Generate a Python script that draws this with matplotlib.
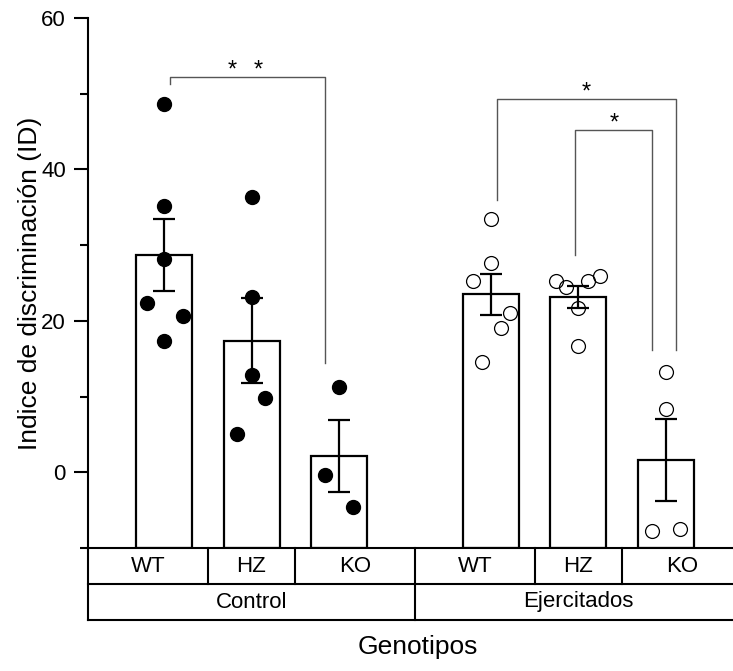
import matplotlib
matplotlib.use('Agg')
from matplotlib import pyplot as plt
from matplotlib.ticker import FixedLocator
import numpy as np

plt.rcParams['font.family'] = ['Liberation Sans', 'DejaVu Sans']

# Datos
groups = ['Control', 'Ejercitados']
genotypes = ['WT', 'HZ', 'KO']

means = [28.7, 17.4, 2.1, 23.5, 23.2, 1.6]
sems = [4.75, 5.6, 4.75, 2.75, 1.45, 5.45]

ctrl_wt = [48.7, 35.2, 28.2, 22.4, 20.6, 17.3]
ctrl_hz = [36.3, 23.1, 12.8, 9.8, 5.0]
ctrl_ko = [11.3, -0.4, -4.6]
ejer_wt = [33.4, 27.6, 25.3, 21.1, 19.1, 14.6]
ejer_hz = [25.9, 25.3, 25.2, 24.5, 21.7, 16.7]
ejer_ko = [13.3, 8.4, -7.5, -7.8]

points = [ctrl_wt, ctrl_hz, ctrl_ko, ejer_wt, ejer_hz, ejer_ko]

# posiciones de barras y dispersion horizontal de los puntos
xpos = np.array([0, 1, 2, 3.737, 4.737, 5.737])
jitter = [[0, 0, 0, -0.2, 0.22, 0],
          [0, 0, 0, 0.15, -0.17],
          [0, -0.16, 0.16],
          [0, 0, -0.2, 0.22, 0.11, -0.1],
          [0.25, -0.26, 0.11, -0.14, 0, 0],
          [0, 0, 0.16, -0.16]]
half = 0.869
ymin = -10

fig = plt.figure(figsize=(7.33, 6.71), dpi=100)
ax = fig.add_axes([88 / 733, 1 - 548 / 671, 1 - 88 / 733, 530 / 671])

# las barras arrancan desde el fondo del eje
ax.bar(xpos, np.array(means) - ymin, bottom=ymin, width=0.64, color='white',
       edgecolor='black', linewidth=1.6, zorder=2)

for i, vals in enumerate(points):
    xs = xpos[i] + np.array(jitter[i])
    if i < 3:
        ax.plot(xs, vals, 'o', color='black', markersize=10, zorder=4,
                clip_on=False)
    else:
        ax.plot(xs, vals, 'o', markerfacecolor='none', markeredgecolor='black',
                markeredgewidth=0.9, markersize=10, zorder=4, clip_on=False)

ax.errorbar(xpos, means, yerr=sems, fmt='none', ecolor='black',
            elinewidth=1.6, capsize=8, capthick=1.6, zorder=3)

# brackets de significancia
bcol = '#555555'
ax.plot([0.07, 0.07, 1.84, 1.84], [51.3, 52.2, 52.2, 14.5], color=bcol, lw=1)
ax.text(0.777, 52.3, '*', ha='center', va='baseline', fontsize=17)
ax.text(1.074, 52.3, '*', ha='center', va='baseline', fontsize=17)
ax.plot([3.806, 3.806, 5.85, 5.85], [36.0, 49.3, 49.3, 16.1], color=bcol, lw=1)
ax.text(4.83, 49.4, '*', ha='center', va='baseline', fontsize=17)
ax.plot([4.70, 4.70, 5.577, 5.577], [28.7, 45.2, 45.2, 16.1], color=bcol, lw=1)
ax.text(5.14, 45.3, '*', ha='center', va='baseline', fontsize=17)

ax.set_xlim(-half, xpos[-1] + 0.766)
ax.set_ylim(ymin, 60)
ax.set_xticks([])
ax.set_yticks([0, 20, 40, 60])
ax.yaxis.set_minor_locator(FixedLocator([-10, 10, 30, 50]))
ax.tick_params(axis='y', which='major', direction='out', length=10, width=1.5,
               labelsize=16, pad=6)
ax.tick_params(axis='y', which='minor', direction='out', length=6, width=1.5)
for s in ['top', 'right']:
    ax.spines[s].set_visible(False)
ax.spines['left'].set_linewidth(1.5)
ax.spines['bottom'].set_linewidth(1.5)
ax.set_ylabel('Indice de discriminación (ID)', fontsize=19, labelpad=-1)

# tabla de categorias bajo el eje
tr = ax.get_xaxis_transform()
row1 = -36 / 530
row2 = -72 / 530
right = xpos[-1] + half
for y in [row1, row2]:
    ax.plot([-half, right], [y, y], color='black', lw=1.5, transform=tr,
            clip_on=False)
ax.plot([-half, -half], [0, row2], color='black', lw=1.5, transform=tr,
        clip_on=False)
mid = (xpos[2] + xpos[3]) / 2
ax.plot([mid, mid], [0, row2], color='black', lw=1.5, transform=tr,
        clip_on=False)
edges = [-half, 0.5, 1.5, mid, xpos[3] + 0.5, xpos[4] + 0.5, right]
for e in [0.5, 1.5, xpos[3] + 0.5, xpos[4] + 0.5]:
    ax.plot([e, e], [0, row1], color='black', lw=1.5, transform=tr,
            clip_on=False)
labels = genotypes + genotypes
for k, lab in enumerate(labels):
    cx = (edges[k] + edges[k + 1]) / 2
    ax.text(cx, row1 / 2, lab, ha='center', va='center', fontsize=16,
            transform=tr)
ax.text((-half + mid) / 2, (row1 + row2) / 2, groups[0], ha='center',
        va='center', fontsize=16, transform=tr)
ax.text((mid + right) / 2, (row1 + row2) / 2, groups[1], ha='center',
        va='center', fontsize=16, transform=tr)

fig.text(418 / 733, 1 - 647 / 671, 'Genotipos', ha='center', va='center',
         fontsize=19)

plt.savefig('out.png', dpi=100)
